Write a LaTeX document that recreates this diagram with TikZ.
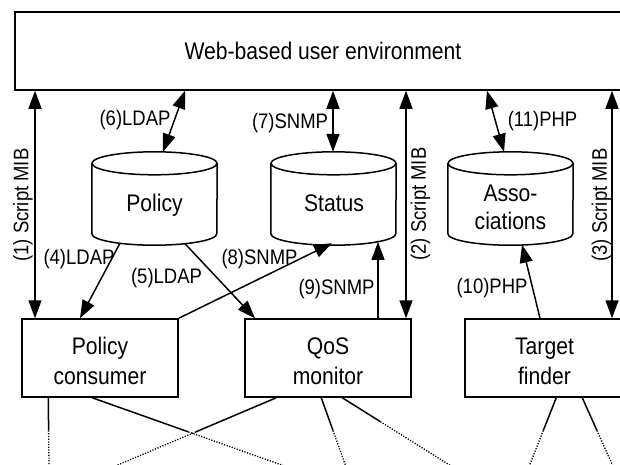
\documentclass[tikz,border=0pt]{standalone}
\usepackage{fontspec}
\setmainfont{Liberation Sans}[FakeStretch=0.88]
\usetikzlibrary{arrows.meta,calc}
\tikzset{
 lw/.style={line width=1.5pt},
 boxshape/.style={draw, line width=1.5pt, minimum height=78pt, inner sep=0pt},
 maintext/.style={inner sep=0pt, align=center, font=\fontsize{24}{30}\selectfont},
 cylbox/.style={minimum width=125pt, minimum height=93pt, inner sep=0pt},
 lbl/.style={inner sep=0pt, font=\fontsize{21}{25}\selectfont},
 one/.style={line width=1.5pt, -{Triangle[length=18pt,width=13pt]}},
 two/.style={line width=1.5pt, {Triangle[length=18pt,width=13pt]}-{Triangle[length=18pt,width=13pt]}},
 solidl/.style={line width=1.5pt},
 dotl/.style={line width=1.3pt, dash pattern=on 1.2pt off 1.5pt},
}
\newcommand\mycyl[1]{%
 \draw[lw] ([yshift=-11.5pt]#1.north west) -- ([yshift=11.5pt]#1.south west) arc[start angle=180,end angle=360,x radius=62.5pt,y radius=11.5pt] -- ([yshift=-11.5pt]#1.north east);
 \draw[lw] ([yshift=-11.5pt]#1.north) ellipse[x radius=62.5pt,y radius=11.5pt];}

\begin{document}
\begin{tikzpicture}[x=1pt,y=-1pt]
\useasboundingbox (0,0) rectangle (620,464);
\clip (0,0) rectangle (620,464);
\fill[white] (0,0) rectangle (620,464);

% top box
\node[boxshape, minimum width=616pt] (web) at (323,51) {};
\node[maintext, anchor=base] (webt) at (323,59.3) {Web-based user environment};

% boxes
\node[boxshape, minimum width=156pt] (pc) at (100,358) {};
\node[maintext] (pct) at (100,361.3) {Policy\\consumer};
\node[boxshape, minimum width=166pt] (qos) at (328,358) {};
\node[maintext] (qost) at (328,361.3) {QoS\\monitor};
\node[boxshape, minimum width=159pt] (tf) at (544.5,358) {};
\node[maintext] (tft) at (544.5,361.3) {Target\\finder};

% cylinders
\node[cylbox] (policy) at (154.5,198.5) {};
\mycyl{policy}
\node[maintext, anchor=base] (policyt) at (154.5,211.7) {Policy};
\node[cylbox] (status) at (333.5,198.5) {};
\mycyl{status}
\node[maintext, anchor=base] (statust) at (334,211.7) {Status};
\node[cylbox] (assoc) at (510.5,198.5) {};
\mycyl{assoc}
\node[maintext, font=\fontsize{24}{28.3}\selectfont] (assoct) at (510.5,207.3) {Asso-\\ciations};

% x positions
\coordinate (c1) at (35,0);
\coordinate (c2) at (406,0);
\coordinate (c3) at (612,0);
\coordinate (c6a) at (185,0);
\coordinate (c6b) at (163,0);
\coordinate (c7) at (333,0);
\coordinate (c11a) at (487,0);
\coordinate (c11b) at (504,0);
\coordinate (c4) at (80,0);
\coordinate (c5) at (255,0);
\coordinate (c9) at (378,0);
\coordinate (c10) at (540,0);

% connectors
\draw[two] (web.south -| c1) -- (pc.north -| c1);
\draw[two] (web.south -| c2) -- (qos.north -| c2);
\draw[two] (web.south -| c3) -- (tf.north -| c3);
\draw[two] (web.south -| c6a) -- (policy.north -| c6b);
\draw[two] (web.south -| c7) -- (status.north -| c7);
\draw[two] (web.south -| c11a) -- (assoc.north -| c11b);
\draw[one] ($(policy.south)+(-34.5,-2)$) -- (pc.north -| c4);
\draw[one] ($(policy.south)+(30.5,-1.5)$) -- (qos.north -| c5);
\draw[one] (pc.north east) -- ($(status.south)+(-1.5,-2)$);
\draw[one] (qos.north -| c9) -- ($(status.south)+(44.5,-3.3)$);
\draw[one] (tf.north -| c10) -- ($(assoc.south)+(11.5,-0.5)$);

% labels
\node[lbl, anchor=base] (l6) at (135,125) {(6)LDAP};
\node[lbl, anchor=base] (l7) at (290,128) {(7)SNMP};
\node[lbl, anchor=base] (l11) at (542.5,126) {(11)PHP};
\node[lbl, anchor=base] (l4) at (79,264.5) {(4)LDAP};
\node[lbl, anchor=base] (l5) at (166.5,283) {(5)LDAP};
\node[lbl, anchor=base] (l8) at (259.5,264) {(8)SNMP};
\node[lbl, anchor=base] (l9) at (336.5,294) {(9)SNMP};
\node[lbl, anchor=base] (l10) at (492,293) {(10)PHP};
\node[lbl, rotate=90] (l1) at (23,205) {(1) Script MIB};
\node[lbl, rotate=90] (l2) at (420.5,204) {(2) Script MIB};
\node[lbl, rotate=90] (l3) at (601.5,205) {(3) Script MIB};

% bottom lines
\coordinate (s1) at ($(pc.south west)+(27,0)$);
\coordinate (e1) at (49,466);
\coordinate (s2) at ($(pc.south west)+(71,0)$);
\coordinate (e2) at (284.5,466);
\coordinate (s3) at ($(qos.south west)+(32,0)$);
\coordinate (e3) at (115.3,466);
\coordinate (s4) at ($(qos.south west)+(77,0)$);
\coordinate (e4) at (345.7,466);
\coordinate (s5) at ($(qos.south west)+(98,0)$);
\coordinate (e5) at (451.1,466);
\coordinate (s6) at ($(tf.south west)+(92,0)$);
\coordinate (e6) at (529.2,466);
\coordinate (s7) at ($(tf.south west)+(118,0)$);
\coordinate (e7) at (612.9,466);
\foreach \i/\f in {1/0.48,2/0.5,3/0.5,4/0.48,5/0.35,6/0.48,7/0.48}{
  \draw[solidl] (s\i) -- ($(s\i)!\f!(e\i)$);
  \draw[dotl] ($(s\i)!\f!(e\i)$) -- (e\i);
}
\end{tikzpicture}
\end{document}
